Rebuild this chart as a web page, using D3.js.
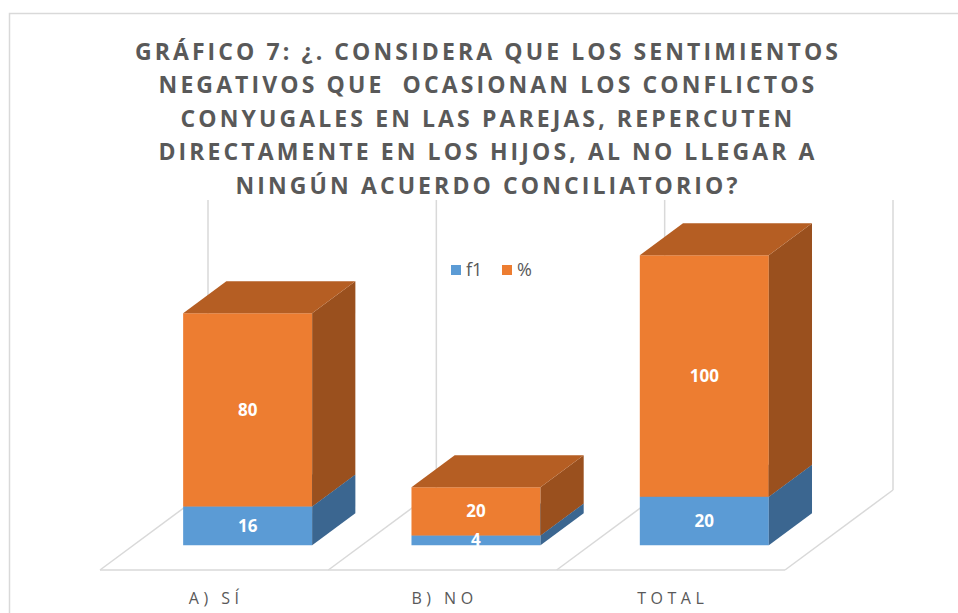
<!DOCTYPE html>
<html>
<head>
<meta charset="utf-8">
<script src="https://cdn.jsdelivr.net/npm/d3@7"></script>
<style>
  body { margin: 0; background: #fff; }
  svg { display: block; }
</style>
</head>
<body>
<div id="chart"></div>
<script>
// data
const categories = ["A) SÍ", "B) NO", "TOTAL"];
const f1Values = [16, 4, 20];
const pctValues = [80, 20, 100];
const seriesNames = ["f1", "%"];
const titleLines = [
    "GRÁFICO 7: ¿. CONSIDERA QUE LOS SENTIMIENTOS",
    "NEGATIVOS QUE  OCASIONAN LOS CONFLICTOS",
    "CONYUGALES EN LAS PAREJAS, REPERCUTEN",
    "DIRECTAMENTE EN LOS HIJOS, AL NO LLEGAR A",
    "NINGÚN ACUERDO CONCILIATORIO?"
];

const W = 958, H = 613;
const depthX = 108, depthY = 80;      // floor depth offset
const zFront = 0.31, zBack = 0.71;     // bar depth span

const svg = d3.select("#chart").append("svg")
    .attr("width", W)
    .attr("height", H);

// chart border
svg.append("rect")
    .attr("x", 9.5).attr("y", 13.5)
    .attr("width", W + 10).attr("height", H + 10)
    .attr("fill", "#fff")
    .attr("stroke", "#d9d9d9")
    .attr("stroke-width", 1.5);

// title
svg.append("text")
    .attr("text-anchor", "middle")
    .style("font-family", "'Open Sans', sans-serif")
    .style("font-weight", "bold")
    .style("font-size", "23px")
    .style("letter-spacing", "3.1px")
    .style("white-space", "pre")
    .attr("fill", "#595959")
    .selectAll("tspan")
    .data(titleLines)
    .enter().append("tspan")
    .attr("x", 488)
    .attr("y", (d, i) => 60 + i * 33.4)
    .text(d => d);

// scales
const x = d3.scaleBand()
    .domain(categories)
    .range([100, 785])
    .paddingInner(0)
    .paddingOuter(0);

const y = d3.scaleLinear()
    .domain([0, 120])
    .range([570, 570 - 120 * 2.417]);

function proj(px, v, z) {
    return [px + z * depthX, y(v) - z * depthY];
}

const grid = svg.append("g")
    .attr("stroke", "#d9d9d9")
    .attr("stroke-width", 1.5)
    .attr("fill", "none");

// back wall vertical lines at category boundaries
const bounds = categories.map(c => x(c)).concat([x.range()[1]]);
bounds.forEach(b => {
    const p0 = proj(b, 0, 1), p1 = proj(b, 120, 1);
    grid.append("line")
        .attr("x1", p0[0]).attr("y1", p0[1])
        .attr("x2", p1[0]).attr("y2", p1[1]);
});

// floor
bounds.forEach(b => {
    const p0 = proj(b, 0, 0), p1 = proj(b, 0, 1);
    grid.append("line")
        .attr("x1", p0[0]).attr("y1", p0[1])
        .attr("x2", p1[0]).attr("y2", p1[1]);
});
grid.append("line")
    .attr("x1", x.range()[0]).attr("y1", y(0))
    .attr("x2", x.range()[1]).attr("y2", y(0));

// bars
const colors = {
    f1: { front: "#5b9bd5", side: "#3b6690", top: "#4a7fb0" },
    "%": { front: "#ed7d31", side: "#9a501e", top: "#b55e23" }
};

const stacked = categories.map((c, i) => {
    const a = f1Values[i], b = pctValues[i];
    return [
        { cat: c, name: "f1", v0: 0, v1: a, val: a },
        { cat: c, name: "%", v0: a, v1: a + b, val: b }
    ];
});

const barW = 129;
const offset = (x.bandwidth() - barW) / 2;

const pts = arr => arr.map(p => p.join(",")).join(" ");

const bars = svg.append("g");
stacked.forEach(segs => {
    segs.forEach(s => {
        const xl = x(s.cat) + offset, xr = xl + barW;
        const c = colors[s.name];
        // front
        bars.append("polygon")
            .attr("points", pts([proj(xl, s.v0, zFront), proj(xr, s.v0, zFront),
                                 proj(xr, s.v1, zFront), proj(xl, s.v1, zFront)]))
            .attr("fill", c.front);
        // side
        bars.append("polygon")
            .attr("points", pts([proj(xr, s.v0, zFront), proj(xr, s.v0, zBack),
                                 proj(xr, s.v1, zBack), proj(xr, s.v1, zFront)]))
            .attr("fill", c.side);
        // top
        bars.append("polygon")
            .attr("points", pts([proj(xl, s.v1, zFront), proj(xr, s.v1, zFront),
                                 proj(xr, s.v1, zBack), proj(xl, s.v1, zBack)]))
            .attr("fill", c.top);
    });
});

// data labels
stacked.forEach(segs => {
    segs.forEach(s => {
        const cx = x(s.cat) + offset + barW / 2;
        const p = proj(cx, (s.v0 + s.v1) / 2, zFront);
        svg.append("text")
            .attr("x", p[0])
            .attr("y", p[1])
            .attr("dy", "0.36em")
            .attr("text-anchor", "middle")
            .style("font-family", "'Open Sans', sans-serif")
            .style("font-weight", "bold")
            .style("font-size", "17px")
            .attr("fill", "#fff")
            .text(s.val);
    });
});

// category labels
svg.append("g").selectAll("text")
    .data(categories)
    .enter().append("text")
    .attr("x", d => x(d) + x.bandwidth() / 2 + 2)
    .attr("y", 604)
    .attr("text-anchor", "middle")
    .style("font-family", "'Open Sans', sans-serif")
    .style("font-size", "16px")
    .style("letter-spacing", "4.5px")
    .attr("fill", "#595959")
    .text(d => d);

// legend
const legend = svg.append("g")
    .attr("transform", "translate(451,265)");
const legendX = [0, 51];
seriesNames.forEach((n, i) => {
    legend.append("rect")
        .attr("x", legendX[i]).attr("y", 0)
        .attr("width", 10).attr("height", 10)
        .attr("fill", colors[n].front);
    legend.append("text")
        .attr("x", legendX[i] + 15)
        .attr("y", 5)
        .attr("dy", "0.36em")
        .style("font-family", "'Open Sans', sans-serif")
        .style("font-size", "18px")
        .attr("fill", "#595959")
        .text(n);
});
</script>
</body>
</html>
